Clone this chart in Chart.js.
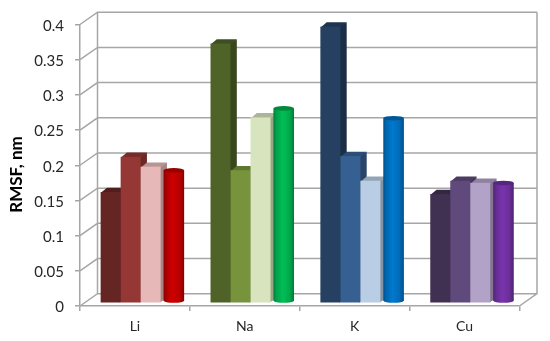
<!DOCTYPE html>
<html>
<head>
	<title>RMSF</title>
	<script src="https://cdn.jsdelivr.net/npm/chart.js"></script>
	<style>
		html, body { margin: 0; background: #fff; }
		canvas { display: block; }
	</style>
</head>
<body>
	<canvas id="myChart" width="550" height="341"></canvas>

	<script>
		const categories = ['Li', 'Na', 'K', 'Cu'];
		const yTicks = [0, 0.05, 0.1, 0.15, 0.2, 0.25, 0.3, 0.35, 0.4];
		const yTitle = 'RMSF, nm';

		const series1 = [0.157, 0.368, 0.392, 0.154];
		const series2 = [0.207, 0.188, 0.208, 0.173];
		const series3 = [0.193, 0.263, 0.173, 0.170];
		const series4 = [0.185, 0.273, 0.259, 0.167];

		const colors1 = ['#642523', '#4f6228', '#254061', '#403152'];
		const colors2 = ['#953735', '#77933c', '#376092', '#604a7b'];
		const colors3 = ['#e6b9b8', '#d7e4bd', '#b9cde5', '#b3a2c7'];
		const colors4 = ['#c00000', '#00b050', '#0070c0', '#7030a0'];

		const gridColor = '#a6a6a6';
		const textColor = '#262626';

		// depth of the back wall and of a bar, in pixels
		const wallDx = 17.5, wallDy = -12.3;
		const barDx = 6.3, barDy = -4.3;
		// the bars stand a little inside the floor
		const floorDx = 5.7, floorDy = -3.5;

		function shade( hex, f ) {
			const n = parseInt( hex.slice( 1 ), 16 );
			const c = [ n >> 16, ( n >> 8 ) & 255, n & 255 ].map( v => Math.min( 255, Math.round( v * f ) ) );
			return 'rgb(' + c[ 0 ] + ',' + c[ 1 ] + ',' + c[ 2 ] + ')';
		}

		function drawBox( ctx, bar, color, base ) {
			const x0 = bar.x - bar.width / 2;
			const x1 = bar.x + bar.width / 2;

			ctx.fillStyle = shade( color, 0.72 );
			ctx.beginPath();
			ctx.moveTo( x1 - 1, bar.y );
			ctx.lineTo( x1 + barDx, bar.y + barDy );
			ctx.lineTo( x1 + barDx, base + barDy );
			ctx.lineTo( x1 - 1, base );
			ctx.closePath();
			ctx.fill();

			ctx.fillStyle = shade( color, 0.8 );
			ctx.beginPath();
			ctx.moveTo( x0, bar.y + 1 );
			ctx.lineTo( x0 + barDx, bar.y + barDy );
			ctx.lineTo( x1 + barDx, bar.y + barDy );
			ctx.lineTo( x1, bar.y + 1 );
			ctx.closePath();
			ctx.fill();

			ctx.fillStyle = color;
			ctx.fillRect( x0, bar.y, bar.width, base - bar.y );
		}

		function drawCylinder( ctx, bar, color, base ) {
			const cx = bar.x + 3.2;
			const rx = bar.width / 2 + 0.3;
			const ry = 2.3;
			const top = bar.y - 2;
			const bottom = base - 2;

			const grad = ctx.createLinearGradient( cx - rx, 0, cx + rx, 0 );
			grad.addColorStop( 0, shade( color, 0.72 ) );
			grad.addColorStop( 0.15, shade( color, 0.92 ) );
			grad.addColorStop( 0.45, shade( color, 1.08 ) );
			grad.addColorStop( 0.8, shade( color, 0.95 ) );
			grad.addColorStop( 1, shade( color, 0.7 ) );

			ctx.fillStyle = grad;
			ctx.beginPath();
			ctx.moveTo( cx - rx, top );
			ctx.lineTo( cx - rx, bottom );
			ctx.ellipse( cx, bottom, rx, ry, 0, Math.PI, 0, true );
			ctx.lineTo( cx + rx, top );
			ctx.closePath();
			ctx.fill();

			ctx.fillStyle = shade( color, 0.78 );
			ctx.beginPath();
			ctx.ellipse( cx, top, rx, ry, 0, 0, Math.PI * 2 );
			ctx.fill();
		}

		const chart3d = {
			id: 'chart3d',

			// walls and floor behind the bars, then the bars left to right
			beforeDatasetsDraw( chart ) {
				const ctx = chart.ctx;
				const y = chart.scales.y;
				const x = chart.scales.x;
				const left = x.left, right = x.right, bottom = y.bottom;

				ctx.save();
				ctx.strokeStyle = gridColor;
				ctx.lineWidth = 1.5;
				ctx.beginPath();

				y.ticks.forEach( function( t ) {
					const py = y.getPixelForValue( t.value );
					ctx.moveTo( left, py );
					ctx.lineTo( left + wallDx, py + wallDy );
					ctx.lineTo( right + wallDx, py + wallDy );
				});

				ctx.moveTo( left + wallDx, y.top + wallDy );
				ctx.lineTo( left + wallDx, bottom + wallDy );
				ctx.moveTo( right + wallDx, y.top + wallDy );
				ctx.lineTo( right + wallDx, bottom + wallDy );
				ctx.lineTo( right, bottom );
				ctx.stroke();

				const base = y.getPixelForValue( 0 );

				ctx.translate( floorDx, floorDy );
				chart.data.datasets.forEach( function( ds, i ) {
					chart.getDatasetMeta( i ).data.forEach( function( bar, j ) {
						if( ds.cylinder ) {
							drawCylinder( ctx, bar, ds.backgroundColor[ j ], base );
						} else {
							drawBox( ctx, bar, ds.backgroundColor[ j ], base );
						}
					});
				});
				ctx.restore();
			},

			beforeDatasetDraw() {
				return false;
			},

			afterDraw( chart ) {
				const ctx = chart.ctx;
				ctx.save();
				ctx.translate( 17, 174.5 );
				ctx.rotate( -Math.PI / 2 );
				ctx.font = 'bold 17px Lato';
				ctx.fillStyle = '#000';
				ctx.textAlign = 'center';
				ctx.textBaseline = 'middle';
				ctx.fillText( yTitle, 0, 0 );
				ctx.restore();
			}
		};

		new Chart( document.getElementById( 'myChart' ), {
			type: 'bar',
			data: {
				labels: categories,
				datasets: [
					{ label: 'Series 1', data: series1, backgroundColor: colors1 },
					{ label: 'Series 2', data: series2, backgroundColor: colors2 },
					{ label: 'Series 3', data: series3, backgroundColor: colors3 },
					{ label: 'Series 4', data: series4, backgroundColor: colors4, cylinder: true }
				]
			},
			plugins: [ chart3d ],
			options: {
				responsive: false,
				animation: false,
				barThickness: 20,
				layout: {
					padding: { top: 24.5, right: 30.5, left: 0, bottom: 0 }
				},
				plugins: {
					legend: { display: false },
					tooltip: { enabled: false }
				},
				scales: {
					x: {
						afterFit( s ) { s.height = 35; },
						grid: { color: gridColor, lineWidth: 1.5, drawOnChartArea: false, tickLength: 5 },
						border: { color: gridColor, width: 1.5 },
						ticks: { color: textColor, font: { family: 'Lato', size: 14 }, padding: 7 }
					},
					y: {
						min: 0,
						max: 0.4,
						afterFit( s ) { s.width = 80; },
						afterBuildTicks( s ) { s.ticks = yTicks.map( v => ( { value: v } ) ); },
						grid: { color: gridColor, lineWidth: 1.5, drawOnChartArea: false, tickLength: 5 },
						border: { color: gridColor, width: 1.5 },
						ticks: {
							color: textColor,
							font: { family: 'Lato', size: 15 },
							padding: 11,
							labelOffset: 1.5,
							callback: v => String( v )
						}
					}
				}
			}
		});
	</script>
</body>
</html>
